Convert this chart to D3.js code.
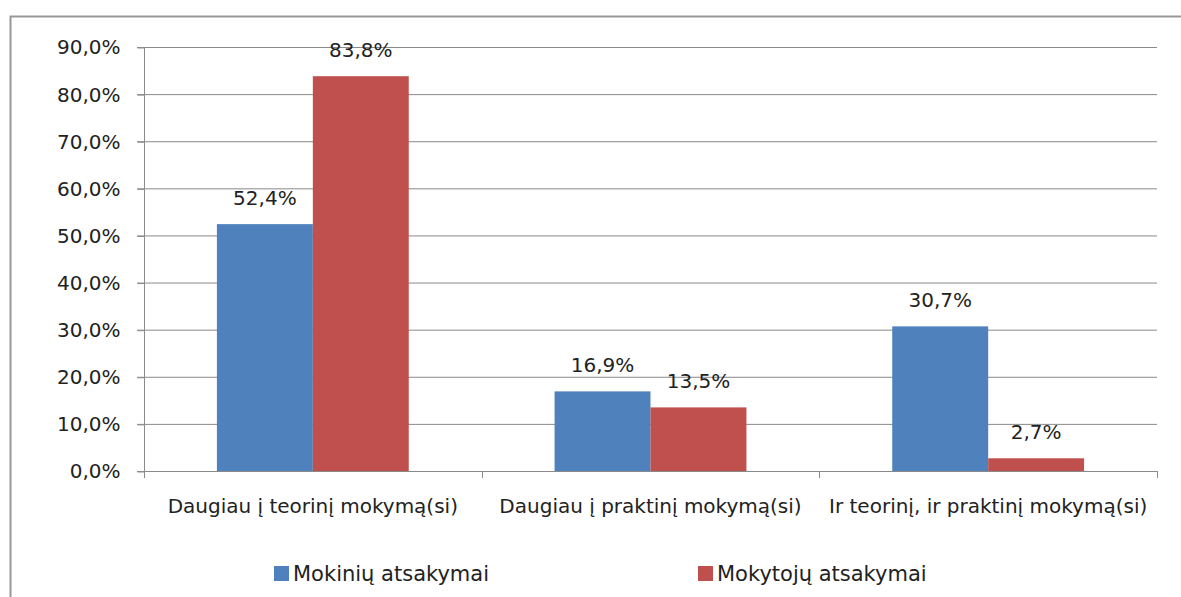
<!DOCTYPE html>
<html><head><meta charset="utf-8">
<script src="https://cdn.jsdelivr.net/npm/d3@7"></script>
<style>body{margin:0;background:#fff}svg{display:block}text{font-family:"DejaVu Sans",sans-serif;fill:#222}</style>
</head><body>
<script>
const categories = ["Daugiau į teorinį mokymą(si)", "Daugiau į praktinį mokymą(si)", "Ir teorinį, ir praktinį mokymą(si)"];
const seriesNames = ["Mokinių atsakymai", "Mokytojų atsakymai"];
const mokiniai = [52.4, 16.9, 30.7];
const mokytojai = [83.8, 13.5, 2.7];
const yTicks = [0, 10, 20, 30, 40, 50, 60, 70, 80, 90];
const colors = ["#4F81BD", "#C0504D"];

(function () {
const W = 1181, H = 597;
const svg = d3.select("body").append("svg").attr("width", W).attr("height", H);
// frame
svg.append("path").attr("d", `M10.5,${H+5} L10.5,16.5 L${W+5},16.5`).attr("fill","none").attr("stroke","#979797").attr("stroke-width",2);

const pLeft = 144, pRight = 1157, pTop = 47, pBottom = 471;
const x = d3.scaleBand().domain(categories).range([pLeft, pRight]);
const y = d3.scaleLinear().domain([0, 90]).range([pBottom, pTop]);
const fmt = v => v.toFixed(1).replace(".", ",") + "%";

// gridlines
svg.append("g").selectAll("line").data(yTicks).join("line")
  .attr("x1", pLeft - 7).attr("x2", pRight).attr("y1", d => y(d) + 0.5).attr("y2", d => y(d) + 0.5)
  .attr("stroke", "#8a8a8a").attr("stroke-width", 1);

// y axis
const yAxis = d3.axisLeft(y).tickValues(yTicks).tickFormat(fmt).tickSize(7).tickPadding(17);
const gy = svg.append("g").attr("transform", `translate(${pLeft + 0.5},0.5)`).call(yAxis);
gy.select(".domain").attr("stroke", "#8a8a8a").attr("d", `M0,${pTop}V${pBottom}`);
gy.selectAll(".tick line").attr("stroke", "#8a8a8a");
gy.selectAll(".tick text").attr("font-size", 20).style("font-family", '"DejaVu Sans",sans-serif').attr("fill", "#222");

// bars
const inner = d3.scaleBand().domain([0, 1]).range([0, x.bandwidth()]).paddingOuter(0.76).paddingInner(0);
const data = categories.map((c, i) => [mokiniai[i], mokytojai[i]]);
const groups = svg.append("g").selectAll("g").data(data).join("g")
  .attr("transform", (d, i) => `translate(${x(categories[i])},0)`);
groups.selectAll("rect").data(d => d).join("rect")
  .attr("x", (d, j) => inner(j)).attr("width", inner.bandwidth())
  .attr("y", d => y(d)).attr("height", d => pBottom - y(d))
  .attr("fill", (d, j) => colors[j]);
groups.selectAll("text").data(d => d).join("text")
  .attr("x", (d, j) => inner(j) + inner.bandwidth() / 2)
  .attr("y", d => y(d) - 19)
  .attr("text-anchor", "middle").attr("font-size", 20)
  .text(fmt);

// x axis
svg.append("line").attr("x1", pLeft).attr("x2", pRight).attr("y1", pBottom + 0.5).attr("y2", pBottom + 0.5).attr("stroke", "#8a8a8a");
const bounds = [pLeft, ...categories.map(c => x(c) + x.bandwidth())];
svg.append("g").selectAll("line").data(bounds).join("line")
  .attr("x1", d => Math.round(d) + 0.5).attr("x2", d => Math.round(d) + 0.5)
  .attr("y1", pBottom).attr("y2", pBottom + 7).attr("stroke", "#8a8a8a");
svg.append("g").selectAll("text").data(categories).join("text")
  .attr("x", d => x(d) + x.bandwidth() / 2).attr("y", 513)
  .attr("text-anchor", "middle").attr("font-size", 20).text(d => d);

// legend
const legX = [274, 698];
const lg = svg.append("g").selectAll("g").data(seriesNames).join("g")
  .attr("transform", (d, i) => `translate(${legX[i]},566)`);
lg.append("rect").attr("width", 15).attr("height", 15).attr("fill", (d, i) => colors[i]);
lg.append("text").attr("x", 19).attr("y", 15).attr("font-size", 21).text(d => d);
})();
</script>
</body></html>
